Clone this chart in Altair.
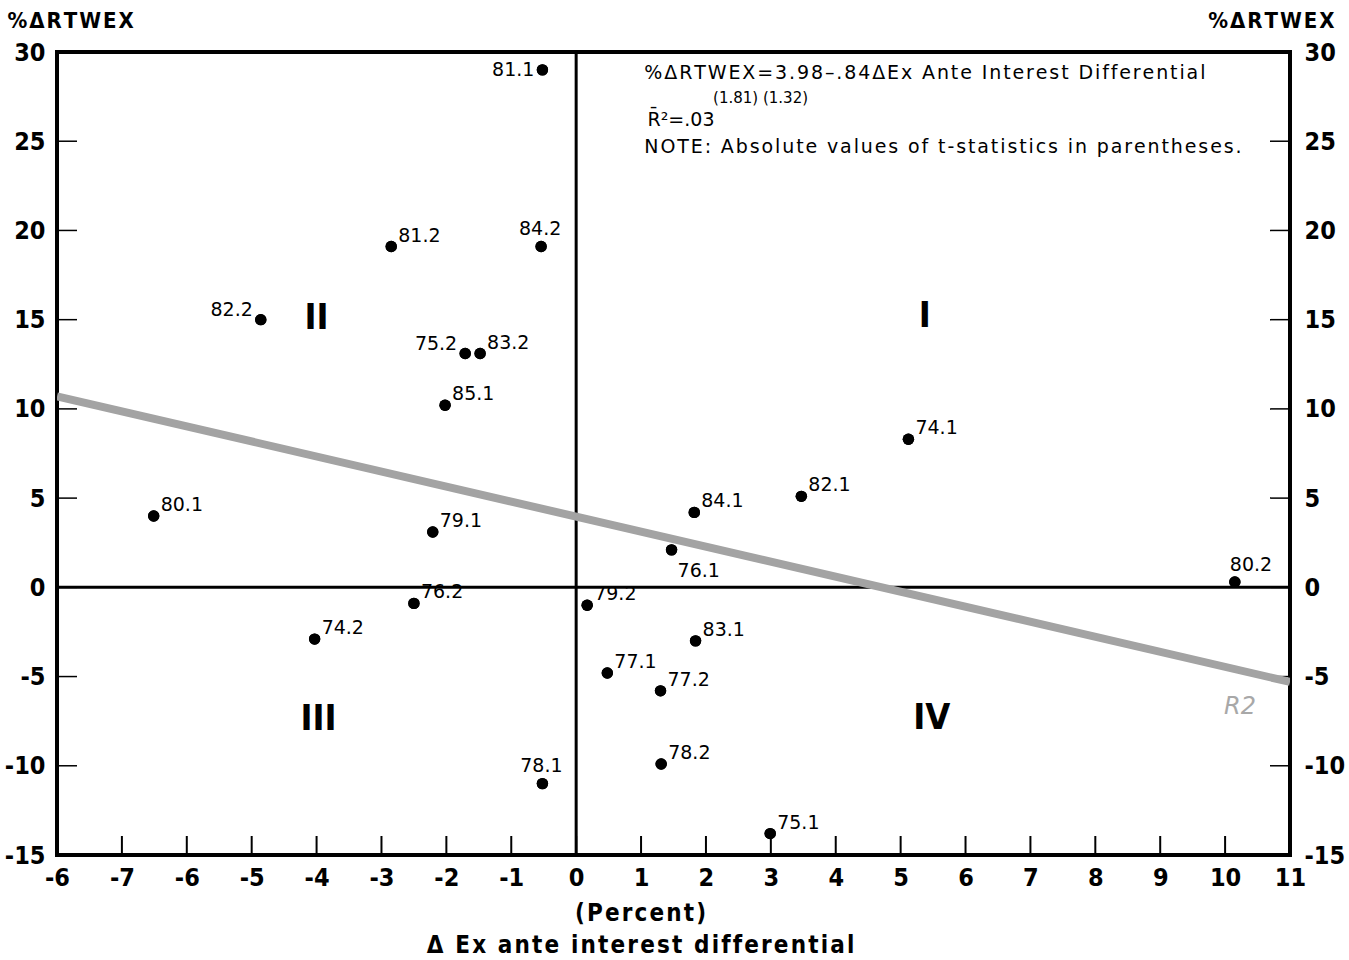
import altair as alt
import pandas as pd

# ---- data ----
labels = ["81.1", "81.2", "84.2", "82.2", "75.2", "83.2", "85.1", "80.1", "79.1",
          "76.2", "74.2", "78.1", "79.2", "83.1", "77.1", "77.2", "78.2", "75.1",
          "76.1", "84.1", "82.1", "74.1", "80.2"]
xs = [-0.52, -2.85, -0.54, -4.86, -1.71, -1.48, -2.02, -6.51, -2.21,
      -2.50, -4.03, -0.52, 0.17, 1.84, 0.48, 1.30, 1.31, 2.99,
      1.47, 1.82, 3.47, 5.12, 10.15]
ys = [29.0, 19.1, 19.1, 15.0, 13.1, 13.1, 10.2, 4.0, 3.1,
      -0.9, -2.9, -11.0, -1.0, -3.0, -4.8, -5.8, -9.9, -13.8,
      2.1, 4.2, 5.1, 8.3, 0.3]

# regression line endpoints (as drawn)
reg_x = [-8, 11]
reg_y = [10.7, -5.3]

x_tick_values = list(range(-8, 12))
x_tick_labels = ["-6", "-7", "-6", "-5", "-4", "-3", "-2", "-1", "0", "1", "2",
                 "3", "4", "5", "6", "7", "8", "9", "10", "11"]
y_tick_values = [-15, -10, -5, 0, 5, 10, 15, 20, 25, 30]

quad_text = ["I", "II", "III", "IV"]
quad_x = [5.37, -4.0, -3.97, 5.48]
quad_y = [15.2, 15.1, -7.4, -7.3]

note_text = ["%\u0394RTWEX=3.98\u2013.84\u0394Ex Ante Interest Differential",
             "R\u0304\u00b2=.03",
             "NOTE: Absolute values of t-statistics in parentheses."]
note_x = [1.05, 1.10, 1.05]
note_y = [28.8, 26.2, 24.7]
tstat_text = ["(1.81) (1.32)"]
tstat_x = [2.11]
tstat_y = [27.4]

r2_text = ["R2"]
r2_x = [10.23]
r2_y = [-6.7]

# label placement (style only)
placement = {"81.1": "l0", "82.2": "l", "75.2": "l", "84.2": "a", "78.1": "a",
             "76.1": "br", "80.2": "ar"}

W, H = 1233, 803
BOLD = "DejaVu Sans Condensed, DejaVu Sans, sans-serif"
REG = "DejaVu Sans, sans-serif"

def spaced(s, sep="\u200a"):
    return sep.join(list(s))

pts = pd.DataFrame({"x": xs, "y": ys, "label": labels})
pts["pl"] = [placement.get(l, "ur") for l in labels]

xscale = alt.Scale(domain=[-8, 11], nice=False, zero=False)
yscale = alt.Scale(domain=[-15, 30], nice=False, zero=False)

expr = "datum.value + ''"
for v, l in zip(x_tick_values, x_tick_labels):
    if str(v) != l:
        expr = f"datum.value == {v} ? '{l}' : ({expr})"

ytitle = spaced("%\u0394RTWEX", "\u200a")

xaxis = alt.Axis(values=x_tick_values, labelExpr=expr, domain=False, ticks=False,
                 grid=False, labelPadding=10, labelFont=BOLD, labelFontWeight="bold",
                 labelFontSize=25, labelColor="black", labelFlush=False,
                 labelOverlap=False,
                 title=[spaced("(Percent)", "\u200a"),
                        spaced("\u0394 Ex ante interest differential", "\u200a")],
                 titleFont=BOLD, titleFontWeight="bold", titleFontSize=24,
                 titleColor="black", titleX=583, titleY=46, titleAlign="center",
                 titleBaseline="top", titleLineHeight=32, titleAnchor=None)

yaxis_l = alt.Axis(values=y_tick_values, labelExpr="datum.value + ''", domain=False,
                   ticks=False, grid=False, labelPadding=12, labelFont=BOLD,
                   labelFontWeight="bold", labelFontSize=25, labelColor="black",
                   labelFlush=False, labelOverlap=False,
                   title=ytitle, titleAngle=0, titleX=-50, titleY=-32,
                   titleAlign="left", titleBaseline="middle", titleFont=BOLD,
                   titleFontWeight="bold", titleFontSize=22, titleColor="black")
yaxis_r = alt.Axis(values=y_tick_values, labelExpr="datum.value + ''", domain=False,
                   ticks=False, grid=False, labelPadding=14, labelFont=BOLD,
                   labelFontWeight="bold", labelFontSize=25, labelColor="black",
                   labelFlush=False, labelOverlap=False, orient="right",
                   title=ytitle, titleAngle=0, titleX=44, titleY=-32,
                   titleAlign="right", titleBaseline="middle", titleFont=BOLD,
                   titleFontWeight="bold", titleFontSize=22, titleColor="black")

base_pts = alt.Chart(pts)

points = base_pts.mark_circle(size=130, color="black", opacity=1).encode(
    x=alt.X("x:Q", scale=xscale, axis=xaxis),
    y=alt.Y("y:Q", scale=yscale, axis=yaxis_l),
)
right_axis_layer = base_pts.mark_circle(size=0, opacity=0).encode(
    x=alt.X("x:Q", scale=xscale, axis=None),
    y=alt.Y("y:Q", scale=yscale, axis=yaxis_r),
)

label_styles = {
    "ur": dict(align="left", dx=7, dy=-11),
    "l0": dict(align="right", dx=-8, dy=0),
    "l": dict(align="right", dx=-8, dy=-10),
    "a": dict(align="center", dx=-1, dy=-18),
    "br": dict(align="left", dx=6, dy=21),
    "ar": dict(align="left", dx=-5, dy=-17),
}
label_layers = []
for key, st in label_styles.items():
    label_layers.append(
        base_pts.transform_filter(alt.datum.pl == key).mark_text(
            font=REG, fontSize=19, color="black", baseline="middle", **st
        ).encode(
            x=alt.X("x:Q", scale=xscale, axis=None),
            y=alt.Y("y:Q", scale=yscale, axis=None),
            text="label:N",
        )
    )

zero_v = alt.Chart(pd.DataFrame({"x": [0]})).mark_rule(color="black", strokeWidth=3).encode(
    x=alt.X("x:Q", scale=xscale, axis=None))
zero_h = alt.Chart(pd.DataFrame({"y": [0]})).mark_rule(color="black", strokeWidth=3).encode(
    y=alt.Y("y:Q", scale=yscale, axis=None))

xt = pd.DataFrame({"x": x_tick_values[1:-1]})
yt = pd.DataFrame({"y": y_tick_values[1:-1]})
ticks_b = alt.Chart(xt).mark_rule(color="black", strokeWidth=2).encode(
    x=alt.X("x:Q", scale=xscale, axis=None), y=alt.value(H), y2=alt.value(H - 19))
ticks_l = alt.Chart(yt).mark_rule(color="black", strokeWidth=1.5).encode(
    y=alt.Y("y:Q", scale=yscale, axis=None), x=alt.value(0), x2=alt.value(20))
ticks_r = alt.Chart(yt).mark_rule(color="black", strokeWidth=1.5).encode(
    y=alt.Y("y:Q", scale=yscale, axis=None), x=alt.value(W), x2=alt.value(W - 20))

reg = alt.Chart(pd.DataFrame({"x": reg_x, "y": reg_y})).mark_line(
    color="#a3a3a3", strokeWidth=8, clip=True).encode(
    x=alt.X("x:Q", scale=xscale, axis=None), y=alt.Y("y:Q", scale=yscale, axis=None))

quads = alt.Chart(pd.DataFrame({"x": quad_x, "y": quad_y, "t": quad_text})).mark_text(
    font=BOLD, fontWeight="bold", fontSize=36, color="black", align="center",
    baseline="middle").encode(
    x=alt.X("x:Q", scale=xscale, axis=None), y=alt.Y("y:Q", scale=yscale, axis=None),
    text="t:N")

note_disp = [spaced(note_text[0]), note_text[1], spaced(note_text[2])]
notes = alt.Chart(pd.DataFrame({"x": note_x, "y": note_y, "t": note_disp})).mark_text(
    font=REG, fontSize=19, color="black", align="left", baseline="middle").encode(
    x=alt.X("x:Q", scale=xscale, axis=None), y=alt.Y("y:Q", scale=yscale, axis=None),
    text="t:N")
tstats = alt.Chart(pd.DataFrame({"x": tstat_x, "y": tstat_y, "t": tstat_text})).mark_text(
    font=REG, fontSize=15, color="black", align="left", baseline="middle").encode(
    x=alt.X("x:Q", scale=xscale, axis=None), y=alt.Y("y:Q", scale=yscale, axis=None),
    text="t:N")
r2 = alt.Chart(pd.DataFrame({"x": r2_x, "y": r2_y, "t": r2_text})).mark_text(
    font=REG, fontSize=24, fontStyle="italic", color="#a8a8a8", align="center",
    baseline="middle").encode(
    x=alt.X("x:Q", scale=xscale, axis=None), y=alt.Y("y:Q", scale=yscale, axis=None),
    text="t:N")

chart = alt.layer(
    points, right_axis_layer, zero_v, zero_h, ticks_b, ticks_l, ticks_r, reg,
    *label_layers, quads, notes, tstats, r2, points.encode(
        x=alt.X("x:Q", scale=xscale, axis=None), y=alt.Y("y:Q", scale=yscale, axis=None))
).resolve_axis(x="independent", y="independent").properties(
    width=W, height=H,
    autosize=alt.AutoSizeParams(type="none"),
    padding={"left": 57, "top": 52, "right": 59, "bottom": 105},
    background="white",
).configure_view(stroke="black", strokeWidth=4)

chart.save("out.html", embed_options={"renderer": "svg", "actions": False})
